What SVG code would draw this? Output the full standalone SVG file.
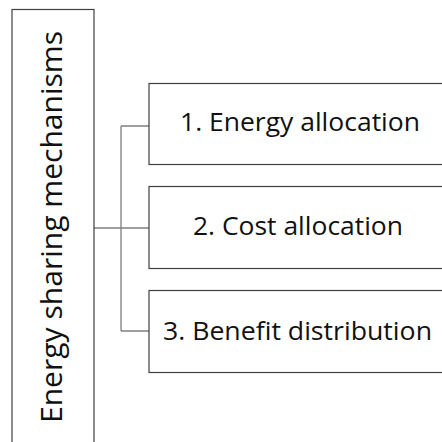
<svg xmlns="http://www.w3.org/2000/svg" width="442" height="442" viewBox="0 0 442 442">
<style>
.box{fill:#fff;stroke:#404040;stroke-width:1.2}
.conn{fill:none;stroke:#7f7f7f;stroke-width:1.3}
.t{font-family:"Open Sans","Noto Sans",sans-serif;fill:#111}
</style>
<rect width="442" height="442" fill="#fff"/>
<g id="connectors">
<path class="conn" d="M94,228H149M121,126V331M121,126H149M121,331H149"/>
</g>
<g id="root">
<rect class="box" x="12" y="9.5" width="82" height="440"/>
<text class="t" transform="translate(62,423) rotate(-90)" font-size="30" textLength="392" lengthAdjust="spacingAndGlyphs">Energy sharing mechanisms</text>
</g>
<g id="n1">
<rect class="box" x="149" y="83.5" width="310" height="81"/>
<text class="t" x="180" y="131" font-size="25.5" textLength="240" lengthAdjust="spacingAndGlyphs">1. Energy allocation</text>
</g>
<g id="n2">
<rect class="box" x="149" y="186.5" width="310" height="82"/>
<text class="t" x="193" y="235" font-size="25.5" textLength="210" lengthAdjust="spacingAndGlyphs">2. Cost allocation</text>
</g>
<g id="n3">
<rect class="box" x="149" y="290.5" width="310" height="82"/>
<text class="t" x="163" y="340" font-size="25.5" textLength="269" lengthAdjust="spacingAndGlyphs">3. Benefit distribution</text>
</g>
</svg>
